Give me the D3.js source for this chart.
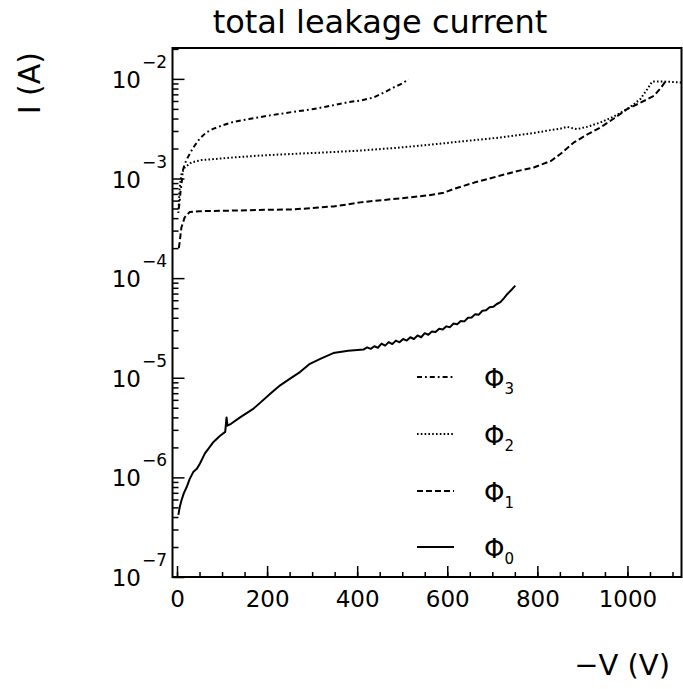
<!DOCTYPE html>
<html>
<head>
<meta charset="utf-8">
<script src="https://cdn.jsdelivr.net/npm/d3@7/dist/d3.min.js"></script>
<style>
  html, body { margin: 0; padding: 0; background: #fff; }
  svg { display: block; font-family: "DejaVu Sans", sans-serif; }
</style>
</head>
<body>
<svg id="chart" width="683" height="689"></svg>
<script>
// ---------------- data ----------------
const title = "total leakage current";
const xLabel = "\u2212V (V)";
const yLabel = "I (A)";

const xMajorTicks = [0, 200, 400, 600, 800, 1000];
const xMinorTicks = d3.range(0, 1101, 50);
const yDecadeExps = [-7, -6, -5, -4, -3, -2];

// Phi_3 (dash-dot)
const phi3V = [4, 6, 8, 10, 13, 17, 24, 32, 39, 50, 65, 80, 100, 125, 160, 200, 258, 300, 333, 377, 410, 436, 460, 481, 500, 514];
const phi3I = [5.0e-4, 6.0e-4, 7.5e-4, 8.8e-4, 1.2e-3, 1.4e-3, 1.63e-3, 1.9e-3, 2.13e-3, 2.5e-3, 2.9e-3, 3.15e-3, 3.4e-3, 3.7e-3, 3.95e-3, 4.25e-3, 4.67e-3, 4.95e-3, 5.28e-3, 5.8e-3, 6.1e-3, 6.5e-3, 7.3e-3, 8.2e-3, 9.0e-3, 9.9e-3];

// Phi_2 (dotted)
const phi2V = [3, 5, 7, 10, 17, 32, 54, 84, 120, 184, 250, 333, 400, 481, 560, 625, 718, 790, 829, 850, 866, 878, 888, 910, 940, 970, 999, 1015, 1029, 1045, 1055, 1081, 1121];
const phi2I = [4.5e-4, 7e-4, 9e-4, 1.11e-3, 1.29e-3, 1.45e-3, 1.53e-3, 1.57e-3, 1.62e-3, 1.7e-3, 1.76e-3, 1.83e-3, 1.9e-3, 2.02e-3, 2.18e-3, 2.34e-3, 2.58e-3, 2.85e-3, 3.06e-3, 3.15e-3, 3.3e-3, 3.2e-3, 3.13e-3, 3.3e-3, 3.65e-3, 4.2e-3, 4.97e-3, 5.6e-3, 6.3e-3, 8.0e-3, 9.4e-3, 9.4e-3, 9.2e-3];

// Phi_1 (dashed)
const phi1V = [4, 6, 9.6, 17, 28, 50, 110, 200, 258, 300, 347, 380, 407, 460, 518, 560, 592, 614, 660, 718, 760, 792, 830, 851, 881, 910, 940, 970, 999, 1030, 1059, 1075, 1084];
const phi1I = [2.0e-4, 2.3e-4, 3.2e-4, 4.07e-4, 4.6e-4, 4.7e-4, 4.75e-4, 4.85e-4, 4.9e-4, 5.05e-4, 5.25e-4, 5.5e-4, 5.76e-4, 6.1e-4, 6.46e-4, 6.8e-4, 7.2e-4, 7.85e-4, 9.1e-4, 1.07e-3, 1.2e-3, 1.29e-3, 1.5e-3, 1.76e-3, 2.3e-3, 2.75e-3, 3.25e-3, 4.0e-3, 4.97e-3, 5.8e-3, 6.76e-3, 8.2e-3, 9.4e-3];

// Phi_0 (solid)
const phi0V = [3, 6, 10, 15, 21.5, 28, 36, 44, 51, 62, 72, 81, 95, 107, 110, 112, 120, 140, 170, 207, 229, 251, 273, 295, 318, 347, 380,
  414, 422, 430, 438, 446, 454, 462, 470, 478, 486, 494, 502, 510, 518, 526, 534, 542, 550, 558, 566, 574, 582, 590, 598, 606, 614, 622, 630, 638, 646, 654, 662, 670, 678, 686, 694, 702, 710, 718, 726, 733, 741, 751];
const phi0I = [4.2e-7, 5.0e-7, 5.9e-7, 6.9e-7, 8.0e-7, 9.6e-7, 1.13e-6, 1.22e-6, 1.38e-6, 1.74e-6, 2.0e-6, 2.27e-6, 2.6e-6, 2.86e-6, 4.0e-6, 3.3e-6, 3.45e-6, 4.0e-6, 4.9e-6, 6.9e-6, 8.4e-6, 9.8e-6, 1.14e-5, 1.38e-5, 1.55e-5, 1.77e-5, 1.87e-5,
  1.92e-5, 2.02e-5, 1.95e-5, 2.07e-5, 2.0e-5, 2.2e-5, 2.1e-5, 2.28e-5, 2.18e-5, 2.36e-5, 2.27e-5, 2.45e-5, 2.36e-5, 2.55e-5, 2.45e-5, 2.66e-5, 2.55e-5, 2.8e-5, 2.7e-5, 2.92e-5, 2.88e-5, 3.1e-5, 3.05e-5, 3.28e-5, 3.22e-5, 3.5e-5, 3.45e-5, 3.72e-5, 3.68e-5, 4.0e-5, 4.02e-5, 4.35e-5, 4.3e-5, 4.7e-5, 4.75e-5, 5.1e-5, 5.15e-5, 5.5e-5, 5.75e-5, 6.3e-5, 6.9e-5, 7.5e-5, 8.4e-5];

const seriesNames = ["3", "2", "1", "0"];
// ---------------------------------------

const svg = d3.select("#chart");
const L = 172.5, R = 681.5, T = 48, B = 577;

const x = d3.scaleLinear().domain([-10, 1120]).range([L, R]);
const y = d3.scaleLog().domain([1e-7, Math.pow(10, -1.69)]).range([B, T]);

const series = [
  { name: "3", V: phi3V, I: phi3I, dash: "5,3,1.8,3" },
  { name: "2", V: phi2V, I: phi2I, dash: "1.6,2.2" },
  { name: "1", V: phi1V, I: phi1I, dash: "6,3" },
  { name: "0", V: phi0V, I: phi0I, dash: null }
];

const line = d3.line().x(d => x(d[0])).y(d => y(d[1]));

const plot = svg.append("g");
series.forEach(s => {
  const pts = s.V.map((v, i) => [v, s.I[i]]);
  plot.append("path")
    .attr("d", line(pts))
    .attr("fill", "none")
    .attr("stroke", "#000")
    .attr("stroke-width", 2)
    .attr("stroke-linejoin", "round")
    .attr("stroke-dasharray", s.dash);
});

// ---- axes ----
svg.append("g").attr("transform", `translate(0,${B})`)
  .call(d3.axisBottom(x).tickValues(xMinorTicks).tickSize(-5).tickFormat(""))
  .call(g => g.select(".domain").remove())
  .call(g => g.selectAll("line").attr("stroke-width", 1.5));
svg.append("g").attr("transform", `translate(0,${B})`)
  .call(d3.axisBottom(x).tickValues(xMajorTicks).tickSize(-11).tickPadding(14).tickFormat(d3.format("d")))
  .call(g => g.select(".domain").remove())
  .call(g => g.selectAll("line").attr("stroke-width", 1.5))
  .call(g => g.selectAll("text").attr("font-size", 23).attr("font-family", "DejaVu Sans").attr("fill", "#000"));

const yMinor = [];
yDecadeExps.concat([-8]).forEach(e => {
  for (let m = 2; m <= 9; m++) {
    const v = m * Math.pow(10, e);
    if (v > 1e-7 && v < y.domain()[1]) yMinor.push(v);
  }
});
svg.append("g").attr("transform", `translate(${L},0)`)
  .call(d3.axisLeft(y).tickValues(yMinor).tickSize(-6).tickFormat(""))
  .call(g => g.select(".domain").remove())
  .call(g => g.selectAll("line").attr("stroke-width", 1.5));
svg.append("g").attr("transform", `translate(${L},0)`)
  .call(d3.axisLeft(y).tickValues(yDecadeExps.map(e => Math.pow(10, e))).tickSize(-12).tickFormat(""))
  .call(g => g.select(".domain").remove())
  .call(g => g.selectAll("line").attr("stroke-width", 1.5));

const yl = svg.append("g").attr("font-family", "DejaVu Sans").attr("fill", "#000");
yDecadeExps.forEach(e => {
  const t = yl.append("text")
    .attr("x", 167)
    .attr("y", y(Math.pow(10, e)) + 9)
    .attr("text-anchor", "end");
  t.append("tspan").attr("font-size", 23).text("10");
  t.append("tspan").attr("font-size", 17).attr("dy", -20).attr("dx", 1).text("\u2212" + Math.abs(e));
});

// frame
svg.append("rect")
  .attr("x", L).attr("y", T).attr("width", R - L).attr("height", B - T)
  .attr("fill", "none").attr("stroke", "#000").attr("stroke-width", 2);

// title
svg.append("text")
  .attr("x", 380).attr("y", 33)
  .attr("text-anchor", "middle")
  .attr("font-size", 32)
  .attr("fill", "#000")
  .text(title);

// axis titles
svg.append("text")
  .attr("x", 670).attr("y", 675)
  .attr("text-anchor", "end")
  .attr("font-size", 29)
  .text(xLabel);
svg.append("text")
  .attr("transform", "translate(40,52) rotate(-90)")
  .attr("text-anchor", "end")
  .attr("font-size", 30)
  .text(yLabel);

// legend
const legY = [377, 434, 491, 547];
const leg = svg.append("g");
series.forEach((s, i) => {
  leg.append("line")
    .attr("x1", 417).attr("x2", 454)
    .attr("y1", legY[i]).attr("y2", legY[i])
    .attr("stroke", "#000").attr("stroke-width", 2)
    .attr("stroke-dasharray", s.dash);
  const t = leg.append("text").attr("x", 484).attr("y", legY[i] + 11).attr("fill", "#000");
  t.append("tspan").attr("font-size", 26).text("\u03A6");
  t.append("tspan").attr("font-size", 15).attr("dy", 6).text(seriesNames[i]);
});
</script>
</body>
</html>
